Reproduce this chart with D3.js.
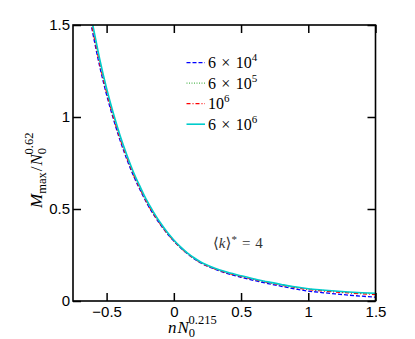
<!DOCTYPE html>
<html><head><meta charset="utf-8">
<script src="https://cdn.jsdelivr.net/npm/d3@7"></script>
<style>body{margin:0;background:#fff}svg{display:block}</style>
</head><body>
<svg id="c" width="415" height="339"></svg>
<script>
const xVals = [-0.62,-0.6,-0.55,-0.5,-0.45,-0.4,-0.35,-0.3,-0.25,-0.2,-0.15,-0.1,-0.05,0,0.05,0.1,0.15,0.2,0.3,0.4,0.5,0.6,0.7,0.8,0.9,1.0,1.1,1.2,1.3,1.4,1.5];
const seriesNames = ["6 × 10|4","6 × 10|5","10|6","6 × 10|6"];
const s6e4 = [1.52,1.445,1.27,1.12,0.99,0.873,0.771,0.68,0.602,0.53,0.469,0.415,0.367,0.326,0.289,0.257,0.23,0.207,0.174,0.149,0.129,0.111,0.095,0.08,0.066,0.054,0.046,0.039,0.032,0.026,0.021];
const s6e5 = [1.545,1.475,1.297,1.143,1.01,0.891,0.787,0.693,0.614,0.54,0.477,0.421,0.371,0.329,0.291,0.26,0.233,0.21,0.178,0.154,0.135,0.118,0.102,0.088,0.075,0.065,0.058,0.052,0.047,0.043,0.04];
const s1e6 = [1.535,1.46,1.285,1.133,1.0,0.882,0.78,0.686,0.608,0.534,0.472,0.417,0.368,0.326,0.289,0.258,0.231,0.208,0.176,0.152,0.133,0.116,0.1,0.086,0.073,0.062,0.055,0.049,0.044,0.039,0.035];
const s6e6 = [1.56,1.49,1.31,1.155,1.02,0.9,0.795,0.7,0.62,0.545,0.482,0.425,0.375,0.332,0.294,0.262,0.235,0.212,0.18,0.156,0.137,0.12,0.104,0.09,0.077,0.067,0.06,0.054,0.049,0.045,0.042];
const xTicks = [-0.5,0,0.5,1,1.5];
const yTicks = [0,0.5,1,1.5];

const series = [
  {name: seriesNames[0], vals: s6e4, color: "#0000ff", dash: "4,2", w: 1.3},
  {name: seriesNames[1], vals: s6e5, color: "#55b855", dash: "1,1.5", w: 1.2},
  {name: seriesNames[2], vals: s1e6, color: "#ff0000", dash: "4,2,1,2", w: 1.2},
  {name: seriesNames[3], vals: s6e6, color: "#00cccc", dash: null, w: 1.6}
];

const svg = d3.select("#c");
const L = 73, R = 375.5, T = 25, B = 301;
const x = d3.scaleLinear().domain([-0.75,1.5]).range([L,R]);
const y = d3.scaleLinear().domain([0,1.5]).range([B,T]);

svg.append("defs").append("clipPath").attr("id","clip")
  .append("rect").attr("x",L).attr("y",T).attr("width",R-L).attr("height",B-T);

const line = d3.line().x((d,i)=>x(xVals[i])).y(d=>y(d)).curve(d3.curveMonotoneX);
const g = svg.append("g").attr("clip-path","url(#clip)");
series.forEach(s=>{
  g.append("path").datum(s.vals).attr("d",line)
   .attr("fill","none").attr("stroke",s.color).attr("stroke-width",s.w)
   .attr("stroke-dasharray",s.dash);
});

const tickFont = "15px 'Liberation Sans', Arial, sans-serif";
const fmt = d3.format("");
const ax = [
  svg.append("g").attr("transform",`translate(0,${B})`).call(d3.axisBottom(x).tickValues(xTicks).tickSizeInner(-8).tickSizeOuter(0).tickPadding(5).tickFormat(d=>fmt(d))),
  svg.append("g").attr("transform",`translate(0,${T})`).call(d3.axisTop(x).tickValues(xTicks).tickSizeInner(-8).tickSizeOuter(0).tickFormat("")),
  svg.append("g").attr("transform",`translate(${L},0)`).call(d3.axisLeft(y).tickValues(yTicks).tickSizeInner(-8).tickSizeOuter(0).tickPadding(3).tickFormat(d=>fmt(d))),
  svg.append("g").attr("transform",`translate(${R},0)`).call(d3.axisRight(y).tickValues(yTicks).tickSizeInner(-8).tickSizeOuter(0).tickFormat(""))
];
ax.forEach(a=>{
  a.select(".domain").remove();
  a.selectAll(".tick line").attr("stroke","#000").attr("stroke-width",1.5);
  a.selectAll(".tick text").style("font",tickFont).attr("fill","#000");
});
svg.append("rect").attr("x",L).attr("y",T).attr("width",R-L).attr("height",B-T)
  .attr("fill","none").attr("stroke","#000").attr("stroke-width",1.6);

const serif = "'Liberation Serif','DejaVu Serif',serif";
// legend
series.forEach((s,i)=>{
  const ly = 62.7 + i*20.5;
  svg.append("line").attr("x1",186.5).attr("x2",205).attr("y1",ly).attr("y2",ly)
    .attr("stroke",s.color).attr("stroke-width",s.w).attr("stroke-dasharray",s.dash);
  const [base, sup] = s.name.split("|");
  const t = svg.append("text").attr("x",208).attr("y",ly+5.5)
    .style("font-family",serif).style("font-size","16px").attr("fill","#000");
  t.append("tspan").text(base.replace(/ × /g,"\u2004×\u2004"));
  t.append("tspan").attr("dy",-7).style("font-size","11px").text(sup);
});

// annotation
const an = svg.append("text").attr("x",213).attr("y",247.5)
  .style("font-family",serif).style("font-size","15px").attr("fill","#333");
an.append("tspan").text("⟨");
an.append("tspan").style("font-style","italic").text("k");
an.append("tspan").text("⟩");
an.append("tspan").attr("dy",-5).style("font-size","11px").text("*");
an.append("tspan").attr("dy",5).text("\u2004=\u20044");

// x label
const xl = svg.append("text").attr("x",168).attr("y",333)
  .style("font-family",serif).style("font-size","17px").attr("fill","#000");
xl.append("tspan").style("font-style","italic").text("n");
xl.append("tspan").attr("dx",1).style("font-style","italic").text("N");
xl.append("tspan").attr("dy",4).attr("dx",0).style("font-size","12.5px").text("0");
xl.append("tspan").attr("dy",-13).attr("dx",-6.5).style("font-size","12.5px").text("0.215");

// y label
const yl = svg.append("text").attr("transform","translate(42,208) rotate(-90)")
  .style("font-family",serif).style("font-size","17px").attr("fill","#000");
yl.append("tspan").style("font-style","italic").text("M");
yl.append("tspan").attr("dy",4).style("font-size","12.5px").text("max");
yl.append("tspan").attr("dy",-4).attr("dx",1).text("/");
yl.append("tspan").attr("dx",1).style("font-style","italic").text("N");
yl.append("tspan").attr("dy",4).attr("dx",0).style("font-size","12.5px").text("0");
yl.append("tspan").attr("dy",-13).attr("dx",-6.5).style("font-size","12.5px").text("0.62");
</script>
</body></html>
